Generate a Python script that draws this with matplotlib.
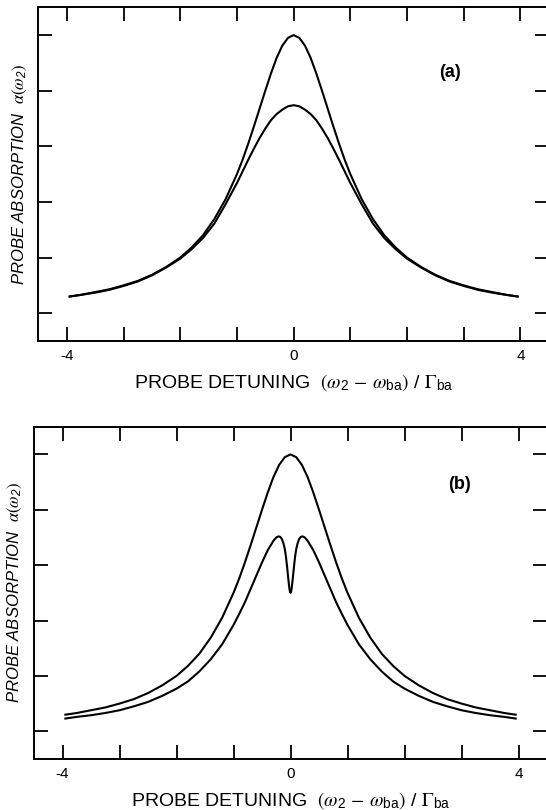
import matplotlib

matplotlib.use("Agg")
import matplotlib.pyplot as plt
from matplotlib.ticker import FixedLocator, FixedFormatter

plt.rcParams["font.family"] = ["Liberation Sans", "DejaVu Sans"]
plt.rcParams["mathtext.fontset"] = "stix"

# detuning grid and probe absorption (tick spacing = 1 unit)
x_wide = [-3.95, -3.75, -3.5, -3.25, -3.0, -2.75, -2.5, -2.25, -2.0, -1.8, -1.6, -1.4,
          -1.2, -1.0, -0.9, -0.8, -0.7, -0.6, -0.5, -0.4, -0.3, -0.2, -0.1, 0.0,
          0.1, 0.2, 0.3, 0.4, 0.5, 0.6, 0.7, 0.8, 0.9, 1.0, 1.2, 1.4,
          1.6, 1.8, 2.0, 2.25, 2.5, 2.75, 3.0, 3.25, 3.5, 3.75, 3.95]

unsaturated = [0.30, 0.33, 0.38, 0.43, 0.50, 0.58, 0.69, 0.83, 1.00, 1.18, 1.40, 1.69,
               2.05, 2.50, 2.76, 3.05, 3.36, 3.68, 4.00, 4.31, 4.59, 4.81, 4.95, 5.00,
               4.95, 4.81, 4.59, 4.31, 4.00, 3.68, 3.36, 3.05, 2.76, 2.50, 2.05, 1.69,
               1.40, 1.18, 1.00, 0.83, 0.69, 0.58, 0.50, 0.43, 0.38, 0.33, 0.30]

saturated_a = [0.30, 0.33, 0.37, 0.42, 0.49, 0.57, 0.68, 0.82, 0.98, 1.15, 1.35, 1.61,
               1.96, 2.34, 2.55, 2.76, 2.96, 3.15, 3.32, 3.47, 3.58, 3.66, 3.72, 3.74,
               3.72, 3.66, 3.58, 3.47, 3.32, 3.15, 2.96, 2.76, 2.55, 2.34, 1.96, 1.61,
               1.35, 1.15, 0.98, 0.82, 0.68, 0.57, 0.49, 0.42, 0.37, 0.33, 0.30]

x_dip = [-3.95, -3.75, -3.5, -3.25, -3.0, -2.75, -2.5, -2.25, -2.0, -1.8, -1.6, -1.4,
         -1.2, -1.0, -0.9, -0.8, -0.7, -0.6, -0.5, -0.4, -0.3, -0.25, -0.21, -0.18,
         -0.15, -0.12, -0.1, -0.08, -0.06, -0.04, -0.02, -0.01, 0.0, 0.01, 0.02, 0.04,
         0.06, 0.08, 0.1, 0.12, 0.15, 0.18, 0.21, 0.25, 0.3, 0.4, 0.5,
         0.6, 0.7, 0.8, 0.9, 1.0, 1.2, 1.4, 1.6, 1.8, 2.0, 2.25, 2.5,
         2.75, 3.0, 3.25, 3.5, 3.75, 3.95]

saturated_b = [0.23, 0.26, 0.29, 0.33, 0.38, 0.45, 0.53, 0.64, 0.77, 0.90, 1.08, 1.30,
               1.57, 1.92, 2.12, 2.33, 2.57, 2.81, 3.05, 3.27, 3.44, 3.50, 3.52, 3.51,
               3.47, 3.38, 3.29, 3.15, 2.97, 2.76, 2.58, 2.52, 2.50, 2.52, 2.58, 2.76,
               2.97, 3.15, 3.29, 3.38, 3.47, 3.51, 3.52, 3.50, 3.44, 3.27, 3.05,
               2.81, 2.57, 2.33, 2.12, 1.92, 1.57, 1.30, 1.08, 0.90, 0.77, 0.64, 0.53,
               0.45, 0.38, 0.33, 0.29, 0.26, 0.23]

x_ticks = [-4, -3, -2, -1, 0, 1, 2, 3, 4]
x_tick_labels = ["-4", "", "", "", "0", "", "", "", "4"]
y_ticks = [0, 1, 2, 3, 4, 5]

X_LABEL = (r"PROBE DETUNING  $(\omega_\mathregular{2}\,-\,\omega_\mathregular{ba})$"
           r" / $\Gamma_\mathregular{ba}$")
Y_LABEL = r"PROBE ABSORPTION  $\alpha(\omega_\mathregular{2})$"


def _style_axes(ax, tag, tag_xy):
    ax.set_xlim(-4.5, 4.5)
    ax.set_ylim(-0.5, 5.5)
    ax.xaxis.set_major_locator(FixedLocator(x_ticks))
    ax.xaxis.set_major_formatter(FixedFormatter(x_tick_labels))
    ax.yaxis.set_major_locator(FixedLocator(y_ticks))
    ax.set_yticklabels([])
    ax.tick_params(direction="in", length=10, width=1.3, top=True, right=True,
                   labelsize=11, pad=6)
    for spine in ax.spines.values():
        spine.set_linewidth(1.4)
    ax.set_xlabel(X_LABEL, fontsize=14, labelpad=6)
    ax.set_ylabel(Y_LABEL, fontsize=12, style="italic", labelpad=1)
    ax.text(tag_xy[0], tag_xy[1], tag, fontsize=13, fontweight="bold",
            ha="center", va="center")


fig = plt.figure(figsize=(5.46, 8.10), dpi=100)
ax_a = fig.add_axes([0.0705, 0.579, 0.9346, 0.412])
ax_b = fig.add_axes([0.0623, 0.063, 0.9396, 0.4102])

ax_a.plot(x_wide, unsaturated, color="black", lw=1.5)
ax_a.plot(x_wide, saturated_a, color="black", lw=1.5)
_style_axes(ax_a, "(a)", (2.76, 4.33))

ax_b.plot(x_wide, unsaturated, color="black", lw=1.5)
ax_b.plot(x_dip, saturated_b, color="black", lw=1.5)
_style_axes(ax_b, "(b)", (2.97, 4.45))

fig.savefig("out.png", dpi=100)
